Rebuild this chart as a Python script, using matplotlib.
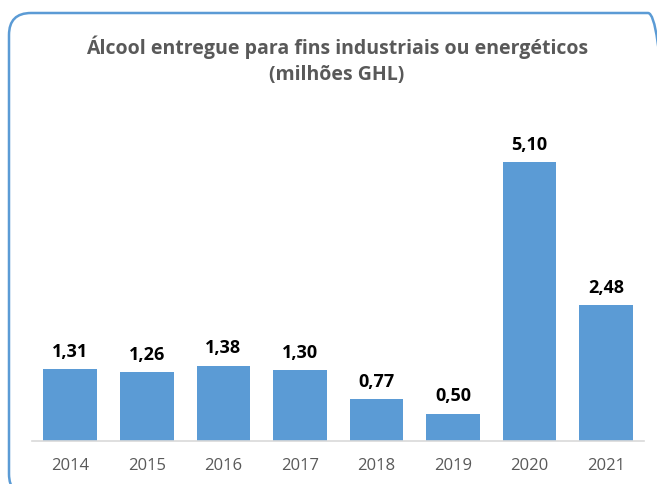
import matplotlib.pyplot as plt
from matplotlib.patches import FancyBboxPatch
from matplotlib.transforms import IdentityTransform

# dados
anos = ['2014', '2015', '2016', '2017', '2018', '2019', '2020', '2021']
valores = [1.31, 1.26, 1.38, 1.30, 0.77, 0.50, 5.10, 2.48]
rotulos = ['1,31', '1,26', '1,38', '1,30', '0,77', '0,50', '5,10', '2,48']

plt.rcParams['font.family'] = ['Open Sans', 'DejaVu Sans']

fig = plt.figure(figsize=(6.57, 4.84), dpi=100)
ax = fig.add_axes([0.0487, 0.0888, 0.932, 0.678])

x = range(len(anos))
barras = ax.bar(x, valores, width=0.7, color='#5B9BD5')
for b, r in zip(barras, rotulos):
    ax.text(b.get_x() + b.get_width() / 2, b.get_height() + 0.15, r,
            ha='center', va='bottom', fontsize=13, fontweight='bold', color='black')

ax.set_xlim(-0.5, 7.5)
ax.set_ylim(0, 6)
ax.set_xticks(list(x))
ax.set_xticklabels(anos, fontsize=12, color='#595959')
ax.tick_params(axis='x', length=0, pad=12)
ax.set_yticks([])
for s in ['top', 'right', 'left']:
    ax.spines[s].set_visible(False)
ax.spines['bottom'].set_color('#D9D9D9')
ax.spines['bottom'].set_linewidth(1.2)

fig.text(0.513, 0.903, 'Álcool entregue para fins industriais ou energéticos',
         ha='center', va='center', fontsize=14, fontweight='bold', color='#595959')
fig.text(0.513, 0.845, '(milhões GHL)',
         ha='center', va='center', fontsize=14, fontweight='bold', color='#595959')

# moldura arredondada
moldura = FancyBboxPatch((9, -12), 661, 483, boxstyle='round,pad=0,rounding_size=22',
                         transform=IdentityTransform(), facecolor='none',
                         edgecolor='#5B9BD5', linewidth=1.8)
fig.patches.append(moldura)

fig.savefig('out.png', dpi=100)
